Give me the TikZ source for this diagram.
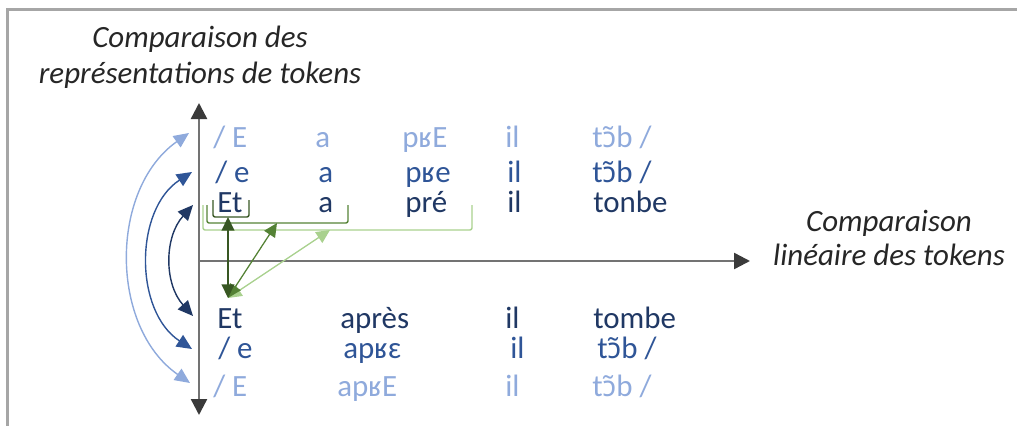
\documentclass[tikz,border=0pt]{standalone}
\usepackage{fontspec}
\setmainfont{Carlito}
\newfontfamily\ipafont{Noto Sans}[Scale=0.92]
\newcommand\onas{{\ipafont ɔ̃}}
\usetikzlibrary{arrows.meta,positioning}
\definecolor{framegray}{HTML}{A6A6A6}
\definecolor{axisgray}{HTML}{737373}
\definecolor{axisdark}{HTML}{3A3A3A}
\definecolor{phonlight}{HTML}{8FAADC}
\definecolor{phonmid}{HTML}{2F5597}
\definecolor{orthdark}{HTML}{203864}
\definecolor{grdark}{HTML}{385723}
\definecolor{grmid}{HTML}{548235}
\definecolor{grlight}{HTML}{A9D18E}

\tikzset{
  tok/.style={anchor=base west, inner sep=0pt, font=\fontsize{22}{26}\selectfont},
  title/.style={anchor=base, inner sep=0pt, text=black!85, font=\fontsize{22}{26}\selectfont\itshape},
  bracket/.style={line width=1pt, rounded corners=1.5pt},
  link/.style={line width=1pt, >={Triangle[length=0.38cm,width=0.34cm]}},
  glink/.style={line width=0.9pt, >={Triangle[length=0.34cm,width=0.32cm]}}
}

\begin{document}
\begin{tikzpicture}[x=0.025cm, y=-0.025cm]
  \useasboundingbox (0,0) rectangle (1017,426);
  % frame
  \draw[framegray, line width=2.2pt] (7.5,430) -- (7.5,9.5) -- (1020,9.5);

  % titles
  \node[title] (titleA) at (200,48) {Comparaison des};
  \node[title] (titleB) at (200,84) {représentations de tokens};
  \node[title] (titleC) at (889,231) {Comparaison};
  \node[title] (titleD) at (889,265) {linéaire des tokens};

  % axes
  \coordinate (O) at (199,261);
  \coordinate (ytop) at (199,103);
  \coordinate (ybot) at (199,415);
  \coordinate (xend) at (750,261);
  \draw[axisgray, line width=1.7pt,
        {Triangle[color=axisdark,length=0.4cm,width=0.4cm]}-{Triangle[color=axisdark,length=0.4cm,width=0.4cm]}]
        (ybot) -- (ytop);
  \draw[axisgray, line width=1.7pt, -{Triangle[color=axisdark,length=0.4cm,width=0.4cm]}] (O) -- (xend);

  % token rows, top
  \foreach \x/\w [count=\i] in {213/{/ E},315/a,402/pʁE,505/il,592/{t\onas{}b /}}
    \node[tok, text=phonlight] (ta\i) at (\x,147) {\w};
  \foreach \x/\w [count=\i] in {215/{/ e},318/a,405/pʁe,507/il,592/{t\onas{}b /}}
    \node[tok, text=phonmid] (tb\i) at (\x,182) {\w};
  \foreach \x/\w [count=\i] in {217/Et,318/a,405/pré,507/il,593/tonbe}
    \node[tok, text=orthdark] (tc\i) at (\x,212) {\w};

  % token rows, bottom
  \foreach \x/\w [count=\i] in {217/Et,340/après,505/il,593/tombe}
    \node[tok, text=orthdark] (ba\i) at (\x,328) {\w};
  \foreach \x/\w [count=\i] in {218/{/ e},343/apʁɛ,510/il,597/{t\onas{}b /}}
    \node[tok, text=phonmid] (bb\i) at (\x,358) {\w};
  \foreach \x/\w [count=\i] in {213/{/ E},337/apʁE,505/il,592/{t\onas{}b /}}
    \node[tok, text=phonlight] (bc\i) at (\x,396) {\w};

  % representation links
  \coordinate (arcLa) at (190,383);
  \coordinate (arcLb) at (189,133);
  \coordinate (arcMa) at (192,349);
  \coordinate (arcMb) at (192,172);
  \coordinate (arcDa) at (193,316);
  \coordinate (arcDb) at (193,205);
  \draw[link, phonlight, <->] (arcLa) to[bend left=55] (arcLb);
  \draw[link, phonmid, <->] (arcMa) to[bend left=57] (arcMb);
  \draw[link, orthdark, <->] (arcDa) to[bend left=42] (arcDb);

  % brackets
  \draw[bracket, grdark] (213,200) -- (213,217) -- (249,217) -- (249,200);
  \draw[bracket, grmid] (207,205) -- (207,223) -- (348,223) -- (348,205);
  \draw[bracket, grlight] (203,205) -- (203,230) -- (472,230) -- (472,205);

  % linear links
  \coordinate (src) at (228,298);
  \coordinate (brA) at (228,217);
  \coordinate (brB) at (277,223);
  \coordinate (brC) at (330,230);
  \draw[glink, grlight, <->] (src) -- (brC);
  \draw[glink, grmid, <->] (src) -- (brB);
  \draw[glink, grdark, <->] (src) -- (brA);
\end{tikzpicture}
\end{document}
